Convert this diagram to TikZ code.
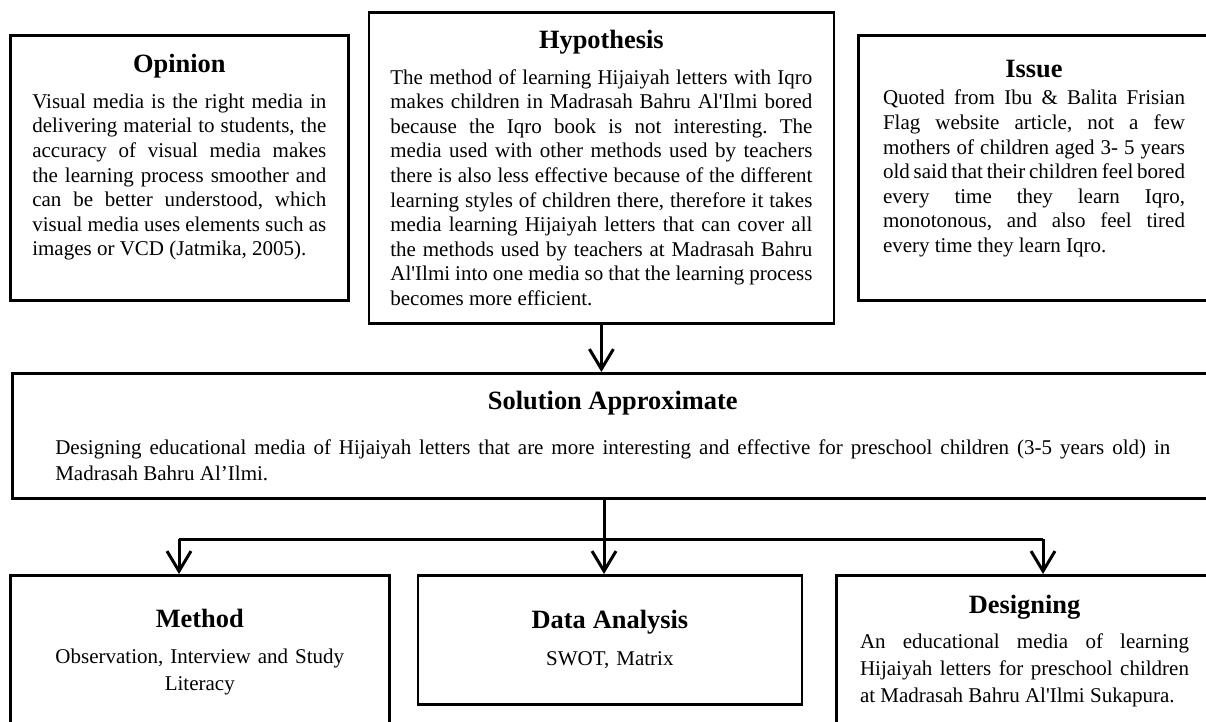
\documentclass[tikz,border=0pt]{standalone}
\usepackage{fontspec}
\setmainfont{Liberation Serif}
\usetikzlibrary{arrows.meta,positioning}

\newcommand{\boxtitle}[2][5.7pt]{{\centering\fontsize{13.2}{15}\selectfont\bfseries #2\par}\vspace{#1}}
\newcommand{\tailgap}[1]{\par\vspace{#1}\hrule height 0pt}
\newcommand{\sq}{\textquotesingle}
\frenchspacing

\begin{document}
\begin{tikzpicture}[x=0.5pt,y=-0.5pt,>={Straight Barb[length=10pt,width=12pt]},
  box/.style={draw,line width=1.3pt,align=justify,inner xsep=0pt,inner ysep=0pt,
    font=\fontsize{10.5}{12.3}\selectfont,execute at begin node=\sloppy},
  lowbox/.style={box,font=\fontsize{10.5}{13.5}\selectfont},
  link/.style={line width=1.5pt}]
  \useasboundingbox (0,0) rectangle (1206,722);
  \clip (0,0) rectangle (1206,722);

  \node[box,minimum width=169pt,minimum height=132.5pt,text width=147pt,anchor=north west]
    (opinion) at (9,34)
    {\boxtitle{Opinion}Visual media is the right media in\linebreak
     delivering material to students, the\linebreak
     accuracy of visual media makes\linebreak
     the learning process smoother and\linebreak
     can be better understood, which\linebreak
     visual media uses elements such as\linebreak
     images or VCD (Jatmika, 2005).\tailgap{10.5pt}};
  \node[box,minimum width=232.5pt,minimum height=155.5pt,text width=211pt,right=9pt of opinion]
    (hyp)
    {\boxtitle{Hypothesis}The method of learning Hijaiyah letters with Iqro\linebreak
     makes children in Madrasah Bahru Al\sq Ilmi bored\linebreak
     because the Iqro book is not interesting. The\linebreak
     media used with other methods used by teachers\linebreak
     there is also less effective because of the different\linebreak
     learning styles of children there, therefore it takes\linebreak
     media learning Hijaiyah letters that can cover all\linebreak
     the methods used by teachers at Madrasah Bahru\linebreak
     Al\sq Ilmi into one media so that the learning process\linebreak
     becomes more efficient.};
  \node[box,minimum width=175.5pt,minimum height=132.5pt,text width=151pt,right=11pt of hyp]
    (issue)
    {\boxtitle[1.2pt]{Issue}Quoted from Ibu \& Balita Frisian\linebreak
     Flag website article, not a few\linebreak
     mothers of children aged 3- 5 years\linebreak
     old said that their children feel bored\linebreak
     every time they learn Iqro,\linebreak
     monotonous, and also feel tired\linebreak
     every time they learn Iqro.\tailgap{9pt}};

  \node[box,font=\fontsize{10.5}{13}\selectfont,minimum width=600.5pt,minimum height=62.5pt,
    text width=557.5pt,anchor=north west] (sol) at (11,372)
    {\boxtitle[9.5pt]{Solution Approximate}Designing educational media of Hijaiyah letters
     that are more interesting and effective for preschool children (3-5 years old) in\linebreak
     Madrasah Bahru Al’Ilmi.};

  \node[lowbox,align=center,minimum width=189.5pt,minimum height=80pt,text width=170pt,
    anchor=north west] (meth) at (9,574)
    {\boxtitle[4.5pt]{Method}Observation, Interview and Study\\Literacy\tailgap{3pt}};
  \node[lowbox,align=center,minimum width=192pt,minimum height=64.5pt,text width=170pt,
    right=13pt of meth.north east,anchor=north west] (data)
    {\boxtitle[5pt]{Data Analysis}SWOT, Matrix};
  \node[lowbox,minimum width=188pt,minimum height=80pt,text width=164.5pt,
    right=16pt of data.north east,anchor=north west] (design)
    {\boxtitle[4pt]{Designing}An educational media of learning\linebreak
     Hijaiyah letters for preschool children\linebreak
     at Madrasah Bahru Al\sq Ilmi Sukapura.\tailgap{4pt}};

  \coordinate (fork) at (604,539);
  \coordinate (forkm) at (179,539);
  \coordinate (forkg) at (1043,539);

  \draw[link,->] (hyp.south) -- (hyp.south |- sol.north);
  \draw[link] (fork |- sol.south) -- (fork);
  \draw[link] (forkm) -- (forkg);
  \draw[link,->] (forkm) -- (forkm |- meth.north);
  \draw[link,->] (fork) -- (fork |- data.north);
  \draw[link,->] (forkg) -- (forkg |- design.north);
\end{tikzpicture}
\end{document}
